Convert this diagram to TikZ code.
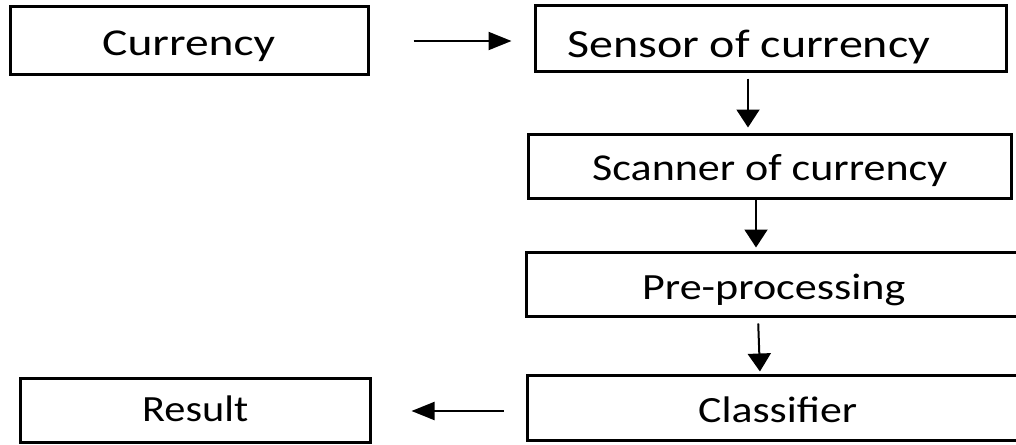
\documentclass[tikz,border=0pt]{standalone}
\usepackage{fontspec}
\setmainfont{Carlito}
\usepackage{graphicx}
\usetikzlibrary{arrows.meta}
\newcommand{\bxtext}[3]{\resizebox{#2}{\height}{\fontsize{#1}{#1}\selectfont #3}}
\begin{document}
\begin{tikzpicture}[x=1pt,y=-1pt,
  stagebox/.style={draw, line width=3pt, rectangle, inner sep=0pt},
  lbl/.style={anchor=base west, inner sep=0pt},
  harr/.style={line width=2pt, -{Triangle[length=23pt,width=18pt]}},
  varr/.style={line width=2pt, -{Triangle[length=18pt,width=23pt]}}]
\useasboundingbox (0,0) rectangle (1016,444);
\fill[white] (0,0) rectangle (1016,444);
% boxes
\node[stagebox, minimum width=358pt, minimum height=67pt] (cur) at (189,40.5) {};
\node[stagebox, minimum width=471pt, minimum height=66pt] (sen) at (770.5,38.5) {};
\node[stagebox, minimum width=483pt, minimum height=64pt] (scn) at (769.5,166) {};
\node[stagebox, minimum width=495pt, minimum height=64pt] (pre) at (773.5,284) {};
\node[stagebox, minimum width=501pt, minimum height=65pt] (cls) at (777.5,407.5) {};
\node[stagebox, minimum width=350pt, minimum height=64pt] (res) at (195,410) {};
% texts
\node[lbl] (curT) at (102,56) {\bxtext{38pt}{173pt}{Currency}};
\node[lbl] (senT) at (567,57) {\bxtext{40pt}{363pt}{Sensor of currency}};
\node[lbl] (scnT) at (592,180) {\bxtext{38pt}{355pt}{Scanner of currency}};
\node[lbl] (preT) at (642,299) {\bxtext{37pt}{263pt}{Pre-processing}};
\node[lbl] (clsT) at (698,422) {\bxtext{37pt}{159pt}{Classifier}};
\node[lbl] (resT) at (142,421) {\bxtext{37pt}{106pt}{Result}};
% connector coordinates
\coordinate (h1) at (0,41);
\coordinate (v1) at (748,0);
\coordinate (v2) at (756,0);
\coordinate (v3a) at (758,0);
\coordinate (v3b) at (760,0);
\coordinate (h2) at (0,411);
% connectors
\draw[harr, shorten <=44pt, shorten >=22pt] (cur.east |- h1) -- (sen.west |- h1);
\draw[varr, shorten <=5.5pt, shorten >=5pt] (v1 |- sen.south) -- (v1 |- scn.north);
\draw[varr, shorten >=3pt] (v2 |- scn.south) -- (v2 |- pre.north);
\draw[varr, shorten <=6pt, shorten >=2pt] (v3a |- pre.south) -- (v3b |- cls.north);
\draw[harr, shorten <=22pt, shorten >=40pt] (cls.west |- h2) -- (res.east |- h2);
\end{tikzpicture}
\end{document}
